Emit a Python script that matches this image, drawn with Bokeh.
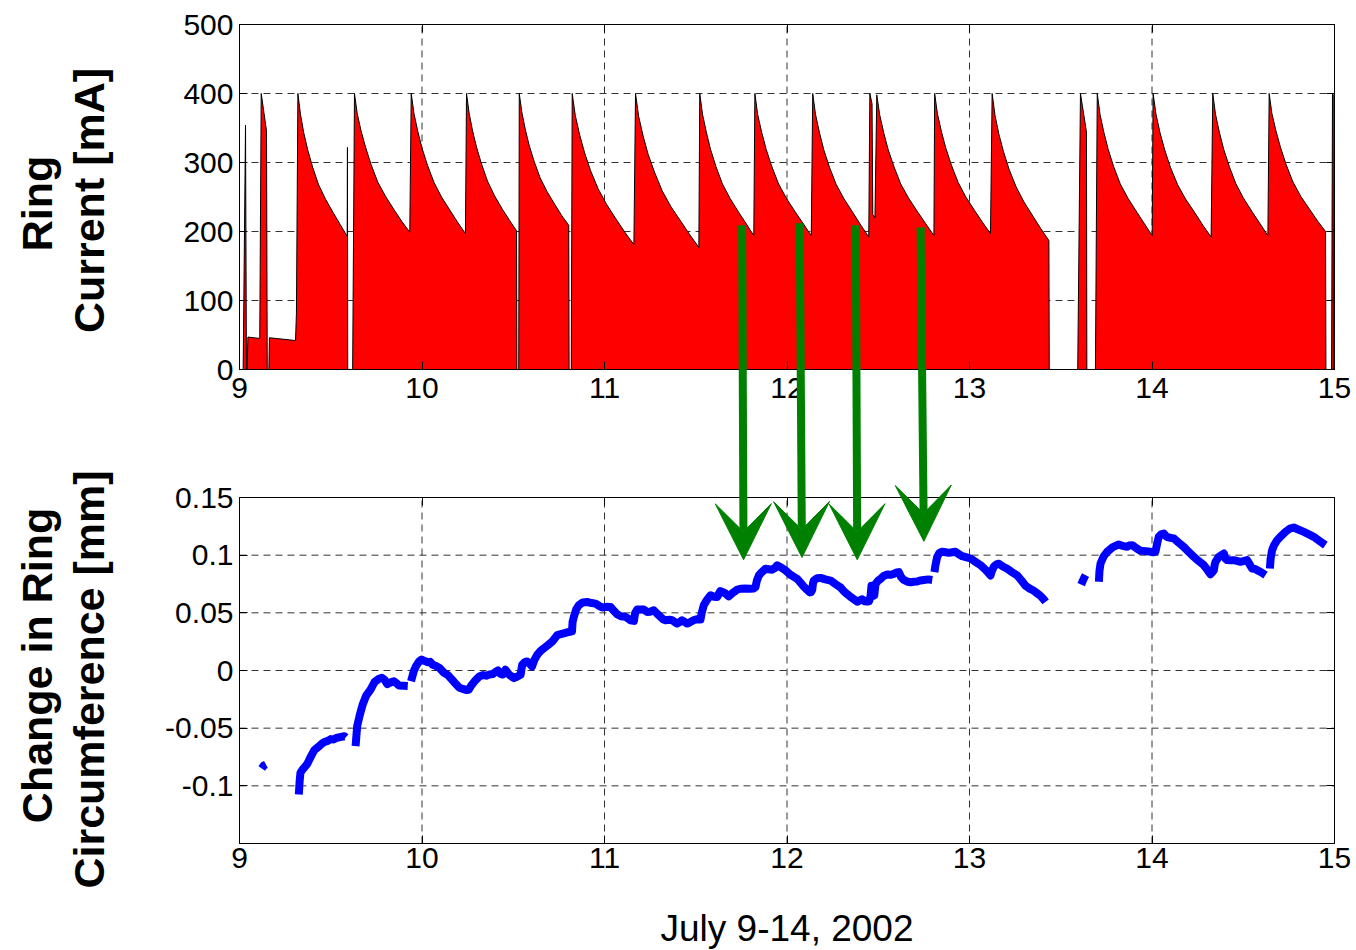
import math
from bokeh.plotting import figure
from bokeh.models import Range1d, FixedTicker, LinearAxis, Label, Arrow, VeeHead
from bokeh.embed import file_html
from bokeh.resources import INLINE

NAN = float("nan")

# ---------------- data ----------------
ring_day = [
    9.000, 9.020, 9.033, 9.038, 9.042, 9.046, 9.111, 9.119, 9.134, 9.148, 9.152,
    9.161, 9.164, 9.307, 9.312,
    9.320, 9.334, 9.352, 9.374, 9.401, 9.433, 9.471, 9.514, 9.552, 9.590, 9.5915, 9.593, 9.620,
    9.630, 9.645, 9.666, 9.691, 9.721, 9.757, 9.800, 9.848, 9.891, 9.933,
    9.941, 9.956, 9.977, 10.000, 10.030, 10.066, 10.107, 10.155, 10.196, 10.238,
    10.244, 10.258, 10.277, 10.299, 10.326, 10.359, 10.397, 10.441, 10.480, 10.518, 10.520, 10.530,
    10.533, 10.547, 10.566, 10.587, 10.614, 10.647, 10.685, 10.728, 10.766, 10.804, 10.806, 10.818,
    10.823, 10.840, 10.864, 10.891, 10.924, 10.965, 11.012, 11.066, 11.114, 11.161,
    11.170, 11.187, 11.212, 11.239, 11.274, 11.316, 11.364, 11.420, 11.468, 11.517,
    11.522, 11.537, 11.558, 11.581, 11.611, 11.646, 11.688, 11.735, 11.777, 11.818,
    11.824, 11.839, 11.861, 11.886, 11.917, 11.954, 11.997, 12.046, 12.090, 12.133,
    12.141, 12.156, 12.178, 12.202, 12.233, 12.270, 12.313, 12.362, 12.405, 12.448,
    12.454, 12.466, 12.470, 12.482,
    12.492, 12.508, 12.530, 12.555, 12.586, 12.623, 12.667, 12.717, 12.761, 12.805,
    12.809, 12.824, 12.846, 12.870, 12.901, 12.938, 12.980, 13.029, 13.072, 13.115,
    13.124, 13.140, 13.161, 13.186, 13.217, 13.255, 13.298, 13.348, 13.391, 13.435, 13.437,
    13.593, 13.608, 13.641, 13.643,
    13.690,
    13.700, 13.715, 13.736, 13.760, 13.790, 13.826, 13.869, 13.917, 13.959, 14.001,
    14.006, 14.022, 14.044, 14.070, 14.101, 14.140, 14.184, 14.235, 14.279, 14.324,
    14.333, 14.348, 14.369, 14.393, 14.424, 14.460, 14.502, 14.550, 14.593, 14.635,
    14.642, 14.657, 14.679, 14.704, 14.735, 14.772, 14.815, 14.864, 14.908, 14.951, 14.953,
    14.984, 14.989, 14.993, 14.994, 15.000,
]
ring_mA = [
    0, 0, 354, 0, 0, 47, 45, 400, 372, 346, 0,
    0, 46, 42, 82,
    400, 370, 343, 318, 293, 268, 247, 227, 210, 193, 322, 0, 0,
    400, 371, 346, 322, 297, 272, 251, 231, 214, 199,
    400, 371, 345, 321, 296, 271, 250, 230, 213, 197,
    400, 372, 346, 322, 298, 273, 252, 232, 216, 201, 0, 0,
    400, 373, 348, 325, 302, 278, 258, 239, 223, 209, 0, 0,
    400, 368, 340, 314, 288, 262, 239, 217, 198, 181,
    400, 367, 338, 312, 286, 259, 236, 214, 195, 177,
    400, 370, 344, 319, 294, 269, 248, 228, 211, 194,
    400, 370, 344, 319, 294, 269, 248, 228, 211, 194,
    400, 370, 343, 318, 293, 268, 247, 227, 209, 192,
    400, 385, 225, 220,
    398, 369, 343, 318, 294, 269, 248, 228, 211, 194,
    400, 371, 345, 321, 296, 271, 250, 230, 213, 197,
    400, 368, 341, 316, 290, 265, 243, 222, 204, 187, 0,
    0, 400, 344, 0,
    0,
    400, 370, 344, 319, 294, 269, 248, 228, 211, 194,
    400, 370, 343, 318, 293, 268, 247, 227, 209, 192,
    400, 370, 344, 319, 294, 269, 248, 228, 211, 194,
    400, 371, 346, 322, 297, 272, 251, 232, 215, 200, 0,
    0, 400, 398, 0, 0,
]

circ_day = [
    9.122, 9.133, 9.145, NAN,
    9.325, 9.330, 9.334, 9.345, 9.356, 9.371, 9.393, 9.410, 9.430, 9.447, 9.465,
    9.484, 9.500, 9.515, 9.530, 9.550, 9.575, 9.582, NAN,
    9.636, 9.645, 9.660, 9.676, 9.695, 9.718, 9.740, 9.764, 9.780, 9.795, 9.809,
    9.825, 9.846, 9.860, 9.873, 9.900, 9.922, NAN,
    9.940, 9.955, 9.968, 9.985, 9.998, 10.015, 10.032, 10.045, 10.059, 10.075,
    10.096, 10.120, 10.142, 10.165, 10.187, 10.205, 10.224, 10.245, 10.257,
    10.270, 10.290, 10.315, 10.335, 10.352, 10.370, 10.388, 10.405, 10.416,
    10.430, 10.443, 10.457, 10.480, 10.503, 10.525, 10.540, 10.549, 10.565,
    10.576, 10.590, 10.603, 10.615, 10.631, 10.650, 10.667, 10.690, 10.713,
    10.728, 10.741, 10.760, 10.777, 10.795, 10.810, 10.822, 10.825, 10.832,
    10.845, 10.859, 10.880, 10.905, 10.930, 10.951, 10.970, 10.987, 11.010,
    11.033, 11.050, 11.069, 11.090, 11.115, 11.130, 11.142, 11.161, 11.168,
    11.179, 11.200, 11.215, 11.234, 11.250, 11.270, 11.290, 11.307, 11.320,
    11.334, 11.355, 11.371, 11.385, 11.398, 11.412, 11.425, 11.440, 11.453,
    11.470, 11.489, 11.510, 11.526, 11.533, 11.544, 11.560, 11.581, 11.600,
    11.617, 11.635, 11.660, 11.681, 11.700, 11.709, 11.725, 11.745, 11.770,
    11.800, 11.815, 11.827, 11.835, 11.846, 11.860, 11.882, 11.900, 11.919,
    11.935, 11.946, 11.960, 11.975, 11.992, 12.019, 12.040, 12.056, 12.075,
    12.092, 12.110, 12.125, 12.132, 12.138, 12.143, 12.147, 12.165, 12.184,
    12.210, 12.239, 12.265, 12.293, 12.310, 12.330, 12.355, 12.385, 12.400,
    12.412, 12.425, 12.439, 12.450, 12.458, 12.463, 12.468, 12.472, 12.478,
    12.485, 12.500, 12.513, 12.530, 12.549, 12.570, 12.586, 12.600, 12.613,
    12.625, 12.640, 12.660, 12.677, 12.695, 12.713, 12.730, 12.750, 12.775,
    12.796, NAN,
    12.808, 12.813, 12.823, 12.835, 12.850, 12.870, 12.887, 12.905, 12.923,
    12.940, 12.960, 12.985, 13.006, 13.035, 13.061, 13.090, 13.115, 13.122,
    13.134, 13.148, 13.161, 13.185, 13.207, 13.235, 13.261, 13.285, 13.307,
    13.330, 13.353, 13.370, 13.389, 13.405, 13.417, NAN,
    13.612, 13.620, 13.630, 13.636, NAN,
    13.709, 13.712, 13.718, 13.735, 13.754, 13.785, 13.818, 13.840, 13.864,
    13.875, 13.891, 13.915, 13.937, 13.965, 13.992, 14.005, 14.019, 14.028,
    14.037, 14.050, 14.065, 14.080, 14.092, 14.110, 14.120, 14.145, 14.174,
    14.200, 14.229, 14.255, 14.284, 14.300, 14.311, 14.320, 14.330, 14.339,
    14.344, 14.348, 14.366, 14.380, 14.394, 14.402, 14.412, 14.430, 14.448,
    14.465, 14.485, 14.505, 14.521, 14.535, 14.549, 14.565, 14.576, 14.600,
    14.622, NAN,
    14.646, 14.650, 14.658, 14.670, 14.686, 14.710, 14.731, 14.755, 14.777,
    14.805, 14.832, 14.860, 14.886, 14.920, 14.950,
]
circ_mm = [
    -0.0850, -0.0825, -0.0815, NAN,
    -0.1075, -0.0950, -0.0887, -0.0860, -0.0840, -0.0810, -0.0740, -0.0690, -0.0665, -0.0640, -0.0620,
    -0.0610, -0.0595, -0.0598, -0.0585, -0.0578, -0.0570, -0.0580, NAN,
    -0.0656, -0.0480, -0.0380, -0.0290, -0.0215, -0.0165, -0.0100, -0.0072, -0.0064, -0.0080, -0.0118,
    -0.0105, -0.0094, -0.0110, -0.0130, -0.0133, -0.0135, NAN,
    -0.0093, -0.0006, 0.0040, 0.0080, 0.0095, 0.0082, 0.0072, 0.0075, 0.0050, 0.0040,
    0.0022, -0.0020, -0.0040, -0.0080, -0.0120, -0.0150, -0.0160, -0.0170, -0.0165,
    -0.0130, -0.0090, -0.0050, -0.0040, -0.0045, -0.0035, -0.0030, -0.0010, 0.0000,
    -0.0030, -0.0035, 0.0006, -0.0040, -0.0066, -0.0050, -0.0037, 0.0049, 0.0075,
    0.0078, 0.0060, 0.0034, 0.0090, 0.0135, 0.0170, 0.0192, 0.0220, 0.0250,
    0.0280, 0.0307, 0.0315, 0.0322, 0.0330, 0.0336, 0.0340, 0.0420, 0.0465,
    0.0530, 0.0566, 0.0590, 0.0594, 0.0585, 0.0580, 0.0560, 0.0546, 0.0552,
    0.0551, 0.0520, 0.0488, 0.0470, 0.0465, 0.0450, 0.0436, 0.0430, 0.0500,
    0.0528, 0.0530, 0.0528, 0.0508, 0.0510, 0.0522, 0.0490, 0.0465, 0.0445,
    0.0436, 0.0440, 0.0436, 0.0420, 0.0407, 0.0420, 0.0436, 0.0420, 0.0407,
    0.0420, 0.0436, 0.0445, 0.0442, 0.0500, 0.0566, 0.0610, 0.0652, 0.0640,
    0.0637, 0.0689, 0.0670, 0.0643, 0.0670, 0.0680, 0.0700, 0.0709, 0.0710,
    0.0709, 0.0710, 0.0723, 0.0780, 0.0824, 0.0850, 0.0882, 0.0878, 0.0874,
    0.0890, 0.0912, 0.0900, 0.0885, 0.0868, 0.0830, 0.0810, 0.0794, 0.0760,
    0.0727, 0.0700, 0.0677, 0.0680, 0.0697, 0.0760, 0.0780, 0.0800, 0.0803,
    0.0790, 0.0780, 0.0750, 0.0721, 0.0690, 0.0662, 0.0630, 0.0597, 0.0610,
    0.0618, 0.0600, 0.0597, 0.0600, 0.0647, 0.0735, 0.0730, 0.0647, 0.0650,
    0.0750, 0.0780, 0.0794, 0.0820, 0.0832, 0.0830, 0.0838, 0.0850, 0.0853,
    0.0810, 0.0785, 0.0770, 0.0765, 0.0770, 0.0771, 0.0780, 0.0785, 0.0790,
    0.0785, NAN,
    0.0853, 0.0910, 0.0985, 0.1020, 0.1030, 0.1025, 0.1020, 0.1025, 0.1030,
    0.1010, 0.0991, 0.0980, 0.0971, 0.0940, 0.0912, 0.0870, 0.0824, 0.0860,
    0.0903, 0.0920, 0.0926, 0.0900, 0.0882, 0.0850, 0.0824, 0.0780, 0.0735,
    0.0710, 0.0691, 0.0670, 0.0647, 0.0620, 0.0595, NAN,
    0.0745, 0.0775, 0.0810, 0.0827, NAN,
    0.0769, 0.0860, 0.0928, 0.0990, 0.1029, 0.1070, 0.1092, 0.1080, 0.1072,
    0.1085, 0.1087, 0.1060, 0.1038, 0.1035, 0.1029, 0.1025, 0.1030, 0.1100,
    0.1159, 0.1180, 0.1188, 0.1160, 0.1153, 0.1148, 0.1145, 0.1110, 0.1072,
    0.1030, 0.0986, 0.0950, 0.0913, 0.0880, 0.0855, 0.0835, 0.0850, 0.0870,
    0.0920, 0.0942, 0.0986, 0.1000, 0.1014, 0.0970, 0.0957, 0.0955, 0.0957,
    0.0950, 0.0942, 0.0950, 0.0957, 0.0920, 0.0884, 0.0880, 0.0870, 0.0850,
    0.0827, NAN,
    0.0884, 0.0970, 0.1043, 0.1090, 0.1130, 0.1170, 0.1202, 0.1230, 0.1240,
    0.1220, 0.1202, 0.1180, 0.1159, 0.1120, 0.1087,
]

x_ticks = [9, 10, 11, 12, 13, 14, 15]
top_y_ticks = [0, 100, 200, 300, 400, 500]
bot_y_ticks = [-0.1, -0.05, 0, 0.05, 0.1, 0.15]
bot_y_labels = ["-0.1", "-0.05", "0", "0.05", "0.1", "0.15"]

arrow_day_top = [11.754, 12.070, 12.377, 12.732]
arrow_mA_top = [209, 212, 209, 206]
arrow_day_tip = [11.762, 12.082, 12.385, 12.750]
arrow_mm_tip = [0.096, 0.098, 0.096, 0.112]

top_label = ["Ring", "Current [mA]"]
bot_label = ["Change in Ring", "Circumference [mm]"]
x_label = "July 9-14, 2002"

# ---------------- layout (page pixels) ----------------
W, H = 1356, 950
X0, X1 = 239, 1334          # x = 9 .. 15
TY0, TY1 = 24, 369          # top panel 500 .. 0
BY0, BY1 = 497, 843         # bottom panel 0.15 .. -0.15
FONT = "Liberation Sans"
XLIM = (9, 15)
TLIM = (0, 500)
BLIM = (-0.15, 0.15)

dx = (XLIM[1] - XLIM[0]) / (X1 - X0)
x_rng = (XLIM[0] - X0 * dx, XLIM[1] + (W - X1) * dx)
dt = (TLIM[1] - TLIM[0]) / (TY1 - TY0)
t_rng = (TLIM[0] - (H - TY1) * dt, TLIM[1] + TY0 * dt)
db = (BLIM[1] - BLIM[0]) / (BY1 - BY0)
b_rng = (BLIM[0] - (H - BY1) * db, BLIM[1] + BY0 * db)


def top_from_bot(v):
    py = BY0 + (BLIM[1] - v) / db
    return TLIM[0] + (TY1 - py) * dt


p = figure(width=W, height=H, x_range=Range1d(*x_rng), y_range=Range1d(*t_rng),
           x_axis_type=None, y_axis_type=None, output_backend="svg",
           toolbar_location=None, min_border=0, min_border_left=0,
           min_border_right=0, min_border_top=0, min_border_bottom=0)
p.extra_y_ranges = {"bot": Range1d(*b_rng)}
p.outline_line_color = None
p.background_fill_color = "white"
p.border_fill_color = "white"
p.xgrid.visible = False
p.ygrid.visible = False

GRID = dict(line_color="#333333", line_width=1, line_dash="7 5")

# grid lines (under the data)
p.segment(x0=x_ticks, y0=TLIM[0], x1=x_ticks, y1=TLIM[1], **GRID)
p.segment(x0=XLIM[0], y0=top_y_ticks, x1=XLIM[1], y1=top_y_ticks, **GRID)
p.segment(x0=x_ticks, y0=BLIM[0], x1=x_ticks, y1=BLIM[1], y_range_name="bot", **GRID)
p.segment(x0=XLIM[0], y0=bot_y_ticks, x1=XLIM[1], y1=bot_y_ticks, y_range_name="bot", **GRID)

# top panel data
p.varea(x=ring_day, y1=0, y2=ring_mA, fill_color="#FF0000")
p.line(ring_day, ring_mA, line_color="black", line_width=1)

# bottom panel data
p.line(circ_day, circ_mm, line_color="#0000FF", line_width=8, line_join="round",
       y_range_name="bot")


def add_axis(side, loc, bounds, ticks, rng=None, labels=True, overrides=None, standoff=6):
    kw = {}
    if rng:
        kw["y_range_name"] = rng
    ax = LinearAxis(fixed_location=loc, bounds=bounds, ticker=FixedTicker(ticks=ticks), **kw)
    ax.axis_line_color = "black"
    ax.axis_line_width = 1
    ax.major_tick_line_color = "black"
    ax.major_tick_in = 8
    ax.major_tick_out = 0
    ax.minor_tick_line_color = None
    ax.major_label_text_font = FONT
    ax.major_label_text_font_size = "30px"
    ax.major_label_standoff = standoff
    if labels:
        ax.major_label_text_color = "black"
    else:
        ax.major_label_text_color = None
    if overrides:
        ax.major_label_overrides = overrides
    p.add_layout(ax, side)
    return ax


# top panel box
add_axis("left", XLIM[0], TLIM, top_y_ticks, standoff=6)
add_axis("right", XLIM[1], TLIM, top_y_ticks, labels=False)
add_axis("above", TLIM[1], XLIM, x_ticks, labels=False)
add_axis("below", TLIM[0], XLIM, x_ticks, standoff=8)
# bottom panel box
add_axis("left", XLIM[0], BLIM, bot_y_ticks, rng="bot", standoff=6,
         overrides={t: s for t, s in zip(bot_y_ticks, bot_y_labels)})
add_axis("right", XLIM[1], BLIM, bot_y_ticks, rng="bot", labels=False)
add_axis("above", BLIM[1], XLIM, x_ticks, rng="bot", labels=False)
add_axis("below", BLIM[0], XLIM, x_ticks, rng="bot", standoff=4)

# axis titles
LBL = dict(x_units="screen", y_units="screen", angle=math.pi / 2, text_align="center",
           text_baseline="middle", text_font=FONT, text_font_style="bold",
           text_font_size="43px", text_color="black")
p.add_layout(Label(x=36, y=H - 203, text=top_label[0], **LBL))
p.add_layout(Label(x=88, y=H - 200, text=top_label[1], **LBL))
p.add_layout(Label(x=36, y=H - 665, text=bot_label[0], **LBL))
p.add_layout(Label(x=88, y=H - 679, text=bot_label[1], **LBL))
p.add_layout(Label(x=(X0 + X1) / 2, y=H - 928, x_units="screen", y_units="screen",
                   text=x_label, text_align="center", text_baseline="middle",
                   text_font=FONT, text_font_size="37px", text_color="black"))

# green arrows running from the top panel into the bottom panel
GREEN = "#008000"
for xt, yt, xb, yb in zip(arrow_day_top, arrow_mA_top, arrow_day_tip, arrow_mm_tip):
    p.add_layout(Arrow(x_start=xt, y_start=yt, x_end=xb, y_end=top_from_bot(yb),
                       end=VeeHead(size=56, fill_color=GREEN, line_color=GREEN, line_width=1),
                       line_color=GREEN, line_width=8, level="overlay"))

open("out.html", "w").write(file_html(p, INLINE))
